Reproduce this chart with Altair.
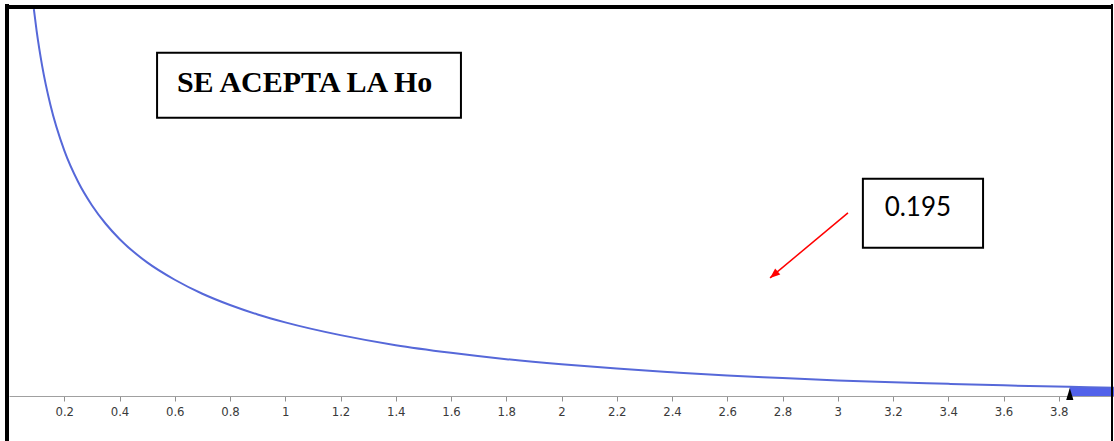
import altair as alt
import pandas as pd

# Chi-square density, 1 degree of freedom
curve_x = [0.09, 0.10, 0.12, 0.15, 0.20, 0.25, 0.30, 0.35, 0.40, 0.50, 0.60, 0.70,
           0.80, 0.90, 1.00, 1.20, 1.40, 1.60, 1.80, 2.00, 2.20, 2.40, 2.60, 2.80,
           3.00, 3.20, 3.40, 3.60, 3.84, 4.00]
curve_y = [1.271, 1.200, 1.085, 0.956, 0.807, 0.704, 0.627, 0.566, 0.516, 0.439, 0.382, 0.336,
           0.299, 0.268, 0.242, 0.200, 0.167, 0.142, 0.121, 0.104, 0.090, 0.078, 0.067, 0.059,
           0.051, 0.045, 0.040, 0.035, 0.030, 0.027]

# Rejection region beyond the critical value
critical_value = 3.84
region_x = [3.84, 3.92, 4.00]
region_y = [0.030, 0.028, 0.027]

tick_values = [0.2, 0.4, 0.6, 0.8, 1, 1.2, 1.4, 1.6, 1.8, 2, 2.2, 2.4, 2.6, 2.8,
               3, 3.2, 3.4, 3.6, 3.8]

# Annotation boxes (data units)
decision_text = "SE ACEPTA LA Ho"
decision_box = {"x": [0.536], "x2": [1.636], "y": [0.914], "y2": [1.128]}
decision_pos = {"x": [1.07], "y": [1.03]}

stat_text = "0.195"
stat_box = {"x": [3.091], "x2": [3.526], "y": [0.487], "y2": [0.714]}
stat_pos = {"x": [3.29], "y": [0.618]}

arrow_from = [3.037, 0.602]
arrow_to = [2.755, 0.388]

W, H = 1105, 388
xs = alt.Scale(domain=[0, 4], nice=False, zero=False)
ys = alt.Scale(domain=[0, 1.275], nice=False)

x_axis = alt.Axis(values=tick_values, format="~g", title=None, grid=False,
                  domainColor="#a0a0a0", domainWidth=1, tickColor="#909090",
                  tickSize=5, labelFont="Liberation Sans Narrow, DejaVu Sans Condensed, Arial",
                  labelFontSize=13, labelColor="#3a3a3a", labelPadding=4)

curve = pd.DataFrame({"x": curve_x, "y": curve_y})
region = pd.DataFrame({"x": region_x, "y": region_y})

area = alt.Chart(region).mark_area(color="#5262ea", opacity=1).encode(
    x=alt.X("x:Q", scale=xs, axis=x_axis),
    y=alt.Y("y:Q", scale=ys, axis=None),
)

line = alt.Chart(curve).mark_line(color="#5668d9", strokeWidth=2, clip=True,
                                  interpolate="monotone").encode(
    x=alt.X("x:Q", scale=xs, axis=x_axis),
    y=alt.Y("y:Q", scale=ys, axis=None),
)

# Critical-value pointer sitting on the axis
marker = alt.Chart(pd.DataFrame({"x": [critical_value], "y": [0]})).mark_point(
    shape="M0,-2.7 L1.2,1.3 L-1.2,1.3 Z", filled=True, color="black", opacity=1, size=36
).encode(x=alt.X("x:Q", scale=xs), y=alt.Y("y:Q", scale=ys))

box1 = alt.Chart(pd.DataFrame(decision_box)).mark_rect(
    fill="white", stroke="black", strokeWidth=2
).encode(x=alt.X("x:Q", scale=xs), x2="x2:Q", y=alt.Y("y:Q", scale=ys), y2="y2:Q")

text1 = alt.Chart(pd.DataFrame({**decision_pos, "t": [decision_text]})).mark_text(
    font="Liberation Serif", fontWeight="bold", fontSize=30, color="black",
    align="center", baseline="middle"
).encode(x=alt.X("x:Q", scale=xs), y=alt.Y("y:Q", scale=ys), text="t:N")

box2 = alt.Chart(pd.DataFrame(stat_box)).mark_rect(
    fill="white", stroke="black", strokeWidth=2
).encode(x=alt.X("x:Q", scale=xs), x2="x2:Q", y=alt.Y("y:Q", scale=ys), y2="y2:Q")

text2 = alt.Chart(pd.DataFrame({**stat_pos, "t": [stat_text]})).mark_text(
    font="Lato", fontSize=26, color="black", align="center", baseline="middle"
).encode(x=alt.X("x:Q", scale=xs), y=alt.Y("y:Q", scale=ys), text="t:N")

arrow_line = alt.Chart(pd.DataFrame({"x": [arrow_from[0]], "y": [arrow_from[1]],
                                     "x2": [arrow_to[0]], "y2": [arrow_to[1]]})).mark_rule(
    color="#ff0000", strokeWidth=1.5
).encode(x=alt.X("x:Q", scale=xs), y=alt.Y("y:Q", scale=ys), x2="x2:Q", y2="y2:Q")

arrow_head = alt.Chart(pd.DataFrame({"x": [arrow_to[0]], "y": [arrow_to[1]]})).mark_point(
    shape="M0,0 L-0.8,2 L0.8,2 Z", filled=True, color="#ff0000", opacity=1,
    size=100, angle=230
).encode(x=alt.X("x:Q", scale=xs), y=alt.Y("y:Q", scale=ys))

# Page frame around the figure
one = pd.DataFrame({"a": [0]})
frame_left = alt.Chart(one).mark_rule(color="black", strokeWidth=4).encode(
    x=alt.value(-2), y=alt.value(-4), y2=alt.value(445))
frame_top = alt.Chart(one).mark_rule(color="black", strokeWidth=4).encode(
    y=alt.value(-1), x=alt.value(-4), x2=alt.value(1104))
frame_right = alt.Chart(one).mark_rule(color="black", strokeWidth=2).encode(
    x=alt.value(1103), y=alt.value(-4), y2=alt.value(445))

chart = alt.layer(
    area, line, marker, box1, text1, box2, text2, arrow_line, arrow_head,
    frame_left, frame_top, frame_right
).properties(
    width=W, height=H,
    padding={"left": 9, "top": 8, "right": 0, "bottom": 45},
    autosize=alt.AutoSizeParams(type="none"),
    background="white",
).configure_view(stroke=None)

chart.save("out.html", embed_options={"renderer": "svg", "actions": False})
